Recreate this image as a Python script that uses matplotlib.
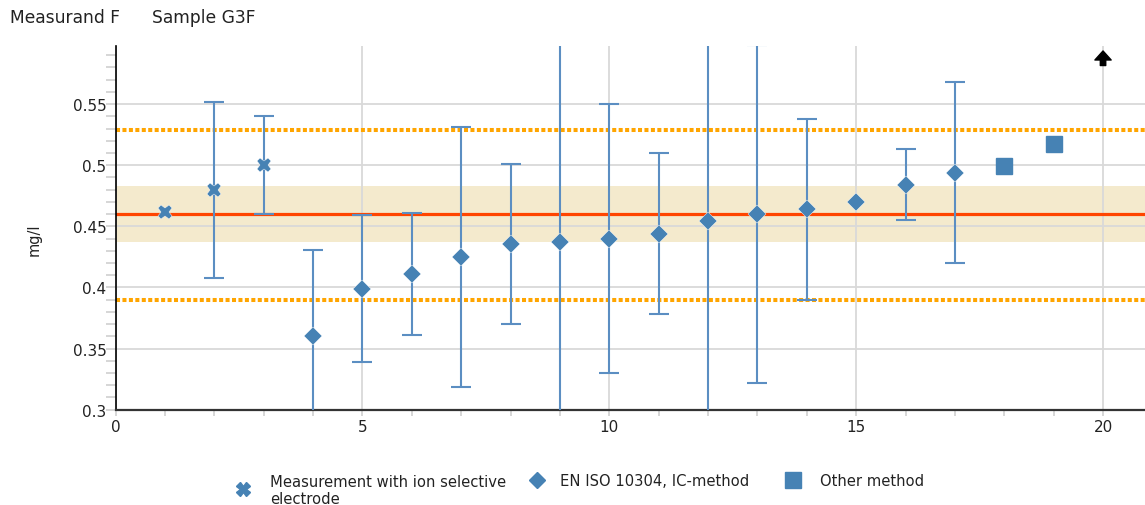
import numpy as np
import matplotlib
matplotlib.use("Agg")
import matplotlib.pyplot as plt
from matplotlib.lines import Line2D
import matplotlib.transforms as mtransforms

plt.rcParams["font.family"] = ["DejaVu Sans"]

# Results per laboratory, grouped by method (value and expanded uncertainty)
ise_labs = [1, 2, 3]
ise_values = [0.462, 0.48, 0.5]
ise_unc = [np.nan, 0.072, 0.04]

ic_labs = [4, 5, 6, 7, 8, 9, 10, 11, 12, 13, 14, 15, 16, 17]
ic_values = [0.36, 0.399, 0.411, 0.425, 0.4355, 0.437, 0.44, 0.444,
             0.454, 0.46, 0.464, 0.47, 0.484, 0.494]
ic_unc = [0.071, 0.06, 0.05, 0.1065, 0.0655, 0.22, 0.11, 0.066,
          0.25, 0.138, 0.074, np.nan, 0.029, 0.074]

other_labs = [18, 19]
other_values = [0.499, 0.5175]

# Laboratories whose result lies above the plotted range
offscale_high_labs = [20]

assigned_value = 0.46
assigned_band = [0.437, 0.483]
tolerance_limits = [0.39, 0.529]

series_labels = ["Measurement with ion selective\nelectrode",
                 "EN ISO 10304, IC-method", "Other method"]

W, H = 1145, 506
fig = plt.figure(figsize=(W / 100, H / 100), dpi=100)
ax = fig.add_axes([115.5 / W, 1 - 410.7 / H, (W - 115.5) / W, (410.7 - 46.5) / H])

ax.set_xlim(0, 20.85)
ax.set_ylim(0.3, 0.598)

blue = "#4682b4"
err_blue = "#5b8ec2"

# Reference value, its uncertainty band and tolerance limits
ax.axhspan(assigned_band[0], assigned_band[1], color="#f4eacd", lw=0, zorder=0.2)
ax.axhline(assigned_value, color="#ff4500", lw=2.3, zorder=2)
for lim in tolerance_limits:
    ax.axhline(lim, color="#ffa500", lw=2.9, ls=(0, (1.0, 0.6)),
               dash_capstyle="butt", zorder=2)

err_kw = dict(fmt="none", ecolor=err_blue, elinewidth=1.5, capsize=7.5,
              capthick=1.5, zorder=3)
ax.errorbar(ise_labs, ise_values, yerr=ise_unc, **err_kw)
ax.errorbar(ic_labs, ic_values, yerr=ic_unc, **err_kw)

ax.plot(ise_labs, ise_values, ls="none", marker="X", ms=10.5, color=blue,
        mec="white", mew=0.3, zorder=4)
ax.plot(ic_labs, ic_values, ls="none", marker="D", ms=9.5, color=blue,
        mec="white", mew=0.3, zorder=4)
ax.plot(other_labs, other_values, ls="none", marker="s", ms=11.5, color=blue,
        zorder=4)

# Arrows for results above the plotted range
trans = mtransforms.blended_transform_factory(ax.transData, ax.transAxes)
for lab in offscale_high_labs:
    ax.annotate("", xy=(lab, 0.985), xytext=(lab, 0.945),
                xycoords=trans, textcoords=trans,
                arrowprops=dict(arrowstyle="simple,head_width=0.9,head_length=0.5,tail_width=0.3",
                                color="black", mutation_scale=13,
                                shrinkA=0, shrinkB=0), zorder=5)

# Grid, ticks and spines
ax.set_axisbelow(True)
ax.set_xticks([0, 5, 10, 15, 20])
ax.set_xticks(np.arange(0, 21, 1), minor=True)
ax.set_yticks([0.3, 0.35, 0.4, 0.45, 0.5, 0.55])
ax.set_yticks(np.arange(0.3, 0.595, 0.01), minor=True)
ax.set_yticklabels(["0.3", "0.35", "0.4", "0.45", "0.5", "0.55"])
ax.grid(True, which="major", color="#d9d9d9", lw=1.3)
ax.tick_params(axis="y", which="both", length=7.5, width=1.1, color="#cccccc",
               labelsize=11, pad=-1.0, labelcolor="#222222")
ax.tick_params(axis="x", which="both", length=4.5, width=1.1, color="#cccccc",
               labelsize=11, pad=2, labelcolor="#222222")
for s in ["top", "right"]:
    ax.spines[s].set_visible(False)
ax.spines["left"].set_color("black")
ax.spines["left"].set_linewidth(1.2)
ax.spines["bottom"].set_color("#333333")
ax.spines["bottom"].set_linewidth(1.6)

ax.set_ylabel("mg/l", fontsize=10.5, color="#222222")
ax.yaxis.set_label_coords(-74 / (W - 115.5), 0.47)

fig.text(10 / W, 1 - 18 / H, "Measurand F", fontsize=12.3, va="center", color="#222222")
fig.text(152 / W, 1 - 18 / H, "Sample G3F", fontsize=12.3, va="center", color="#222222")

# Legend below the plot: marker, then label; the wrapped label is centred on its marker
legend_items = [
    dict(marker="X", ms=10, handle_x=243, handle_y=490, text_x=270, text_y=491),
    dict(marker="D", ms=8, handle_x=537, handle_y=481, text_x=560, text_y=482),
    dict(marker="s", ms=11, handle_x=793, handle_y=481, text_x=820, text_y=482),
]
for item, label in zip(legend_items, series_labels):
    fig.add_artist(Line2D([item["handle_x"] / W], [1 - item["handle_y"] / H],
                          transform=fig.transFigure, ls="none",
                          marker=item["marker"], ms=item["ms"], color=blue))
    fig.text(item["text_x"] / W, 1 - item["text_y"] / H, label, fontsize=10.6,
             va="center", ha="left", color="#222222", linespacing=1.2)

fig.savefig("out.png", dpi=100)
